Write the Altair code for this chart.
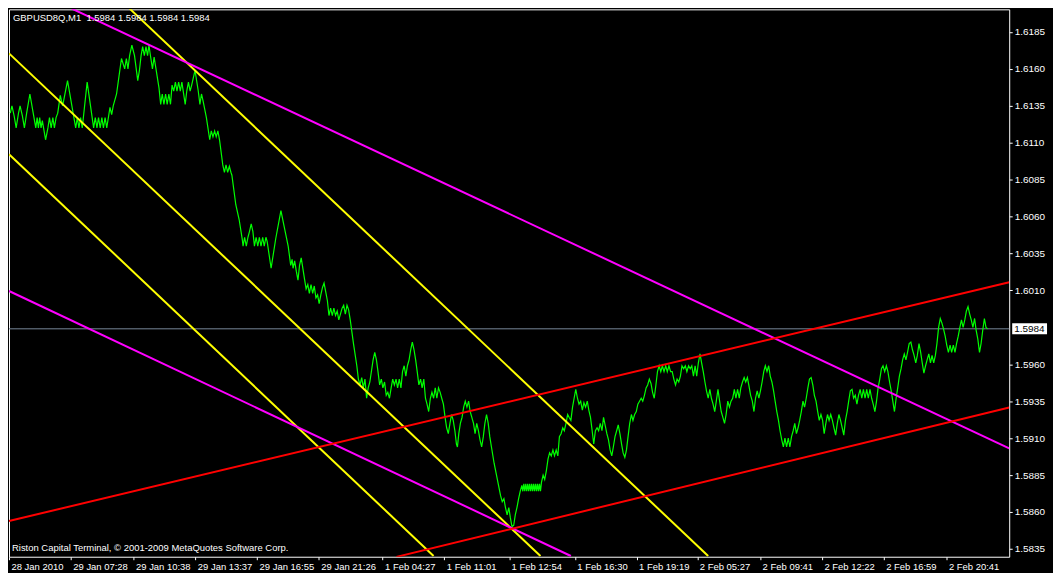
import altair as alt
import pandas as pd

# ---- price series: (bar position, close) per session ----
ticks_29jan_early = [
 (3.3, 1.6130), (5, 1.6135), (7.3, 1.6128), (9.3, 1.6120), (11.7, 1.6130), (13.3, 1.6135), (15.7, 1.6128),
 (17.7, 1.6120), (20, 1.6130), (23.3, 1.6143), (26.7, 1.6130), (29.3, 1.6120), (30.7, 1.6127), (32, 1.6120),
 (33.3, 1.6127), (34.7, 1.6120), (36, 1.6125), (39.3, 1.6112), (41.7, 1.6120), (43.3, 1.6127), (45, 1.6120),
 (46.7, 1.6127), (48.3, 1.6120), (50, 1.6127), (51.7, 1.6130), (54.3, 1.6142), (56.7, 1.6135), (61.7, 1.6152),
 (70, 1.6120), (71.7, 1.6127), (73.3, 1.6120), (75, 1.6127), (76.7, 1.6120), (81.7, 1.6151), (88.3, 1.6120),
 (90, 1.6127), (91.7, 1.6120), (93.3, 1.6127), (95, 1.6120), (96.7, 1.6127), (98.3, 1.6120), (100, 1.6127),
 (101.7, 1.6120), (105, 1.6134), (106.7, 1.6129), (108.3, 1.6135), (111.7, 1.6143), (115, 1.6159),
 (116.7, 1.6167), (120, 1.6160), (121.7, 1.6167), (123.3, 1.6160), (125, 1.6169), (127.3, 1.6176),
 (130, 1.6169), (133.3, 1.6152), (135, 1.6159), (136.7, 1.6169), (138.3, 1.6175), (140, 1.6169),
 (141.7, 1.6175), (143.3, 1.6169), (144.7, 1.6176), (146.7, 1.6167), (148.3, 1.6160), (150, 1.6168),
]
ticks_29jan_mid = [
 (155, 1.6147), (156.7, 1.6136), (158.3, 1.6143), (160, 1.6136), (161.7, 1.6143), (163.3, 1.6136),
 (165, 1.6143), (166.7, 1.6136), (168.3, 1.6149), (170, 1.6145), (171.7, 1.6151), (173.3, 1.6145),
 (175, 1.6151), (176.7, 1.6145), (178.3, 1.6151), (181.7, 1.6136), (183.3, 1.6145), (185, 1.6151),
 (186.7, 1.6145), (188.3, 1.6149), (191.7, 1.6159), (195, 1.6145), (196.7, 1.6136), (198.3, 1.6143),
 (200, 1.6138), (203.3, 1.6127), (206.7, 1.6112), (208.3, 1.6118), (210, 1.6114), (211.7, 1.6118),
 (213.3, 1.6114), (215, 1.6118), (216.7, 1.6112), (220, 1.6095), (221.7, 1.6090), (223.3, 1.6095),
 (225, 1.6090), (226.7, 1.6094), (228.3, 1.6090), (229.3, 1.6088), (233.3, 1.6068), (236.7, 1.6058),
 (240, 1.6044), (240.7, 1.6040), (242.3, 1.6046), (244, 1.6040), (245.7, 1.6046), (247.3, 1.6050),
 (249, 1.6055), (250.7, 1.6050), (252.3, 1.6040), (254, 1.6046), (255.7, 1.6040), (257.3, 1.6046),
 (259, 1.6040), (260.7, 1.6046), (262.3, 1.6040), (264, 1.6046), (265.3, 1.6043), (269.3, 1.6025),
 (274, 1.6045), (279.3, 1.6064), (283.3, 1.6051), (286.7, 1.6040), (289.3, 1.6027), (290.7, 1.6031),
 (291.7, 1.6025), (293.3, 1.6030), (295, 1.6023), (296.7, 1.6017), (298.3, 1.6027), (300, 1.6032),
]
ticks_29jan_late = [
 (303.3, 1.6018), (305, 1.6011), (306.7, 1.6014), (308.3, 1.6008), (310, 1.6014), (311.7, 1.6008),
 (313.3, 1.6013), (315, 1.6005), (316.7, 1.6007), (318.3, 1.6001), (320, 1.6007), (321.7, 1.6012),
 (323.3, 1.6015), (325, 1.6009), (326.7, 1.6003), (328.3, 1.5993), (330, 1.5998), (331.7, 1.5993),
 (333.3, 1.5998), (335, 1.5993), (336.7, 1.5996), (338.3, 1.5990), (340, 1.5994), (341.7, 1.5998),
 (343.3, 1.6000), (345, 1.5994), (346.7, 1.6000), (348.3, 1.5997), (350, 1.5990), (353.3, 1.5974),
 (356.7, 1.5959), (358.3, 1.5950), (360, 1.5946), (361.7, 1.5951), (363.3, 1.5944), (365, 1.5950),
 (366.7, 1.5937), (368.3, 1.5944), (370, 1.5948), (373.3, 1.5963), (375, 1.5968), (376.7, 1.5963),
 (378.3, 1.5955), (380, 1.5946),
]
ticks_1feb_early = [
 (381.7, 1.5950), (383.3, 1.5944), (385, 1.5948), (386.7, 1.5939), (388.3, 1.5941), (390, 1.5937),
 (391.7, 1.5944), (393.3, 1.5950), (395, 1.5946), (396.7, 1.5950), (398.3, 1.5944), (400, 1.5950),
 (401.7, 1.5944), (403.3, 1.5955), (405, 1.5959), (406.7, 1.5952), (408.3, 1.5959), (410, 1.5963),
 (411.7, 1.5970), (413.3, 1.5975), (415, 1.5970), (416.7, 1.5963), (418.3, 1.5955), (420, 1.5946),
 (421.7, 1.5950), (423.3, 1.5944), (425, 1.5950), (426.7, 1.5937), (428.3, 1.5933), (430, 1.5928),
 (431.7, 1.5937), (433.3, 1.5941), (435, 1.5937), (436.7, 1.5944), (438.3, 1.5937), (440, 1.5944),
 (441.7, 1.5941), (443.3, 1.5937), (445, 1.5933), (446.7, 1.5924), (448.3, 1.5917), (450, 1.5913),
 (451.7, 1.5920), (453.3, 1.5926), (455, 1.5922), (456.7, 1.5915), (458.3, 1.5906), (459.3, 1.5904),
 (460.7, 1.5913), (462.3, 1.5920), (464, 1.5924), (465.7, 1.5931), (467.3, 1.5935), (469, 1.5931),
 (470.7, 1.5935), (472.3, 1.5928), (474, 1.5924), (475.7, 1.5920), (477.3, 1.5913), (479, 1.5920),
 (480.7, 1.5915), (482.3, 1.5909), (484, 1.5904), (485.7, 1.5911), (487.3, 1.5920), (489, 1.5926),
 (490.7, 1.5920), (492.3, 1.5911), (494, 1.5904), (496.7, 1.5893), (500, 1.5882), (503.3, 1.5871),
 (505, 1.5867), (506.7, 1.5869), (508.3, 1.5863), (510, 1.5858), (511.7, 1.5863), (513.3, 1.5856),
 (515, 1.5850), (516.7, 1.5851), (518.3, 1.5858), (520, 1.5863), (521.7, 1.5869), (523.3, 1.5874),
 (525, 1.5878),
]
ticks_1feb_mid = [
 (526, 1.5874), (527, 1.5879), (528, 1.5874), (529, 1.5879), (530, 1.5874), (531, 1.5879), (532, 1.5874),
 (533, 1.5879), (534, 1.5874), (535, 1.5879), (536, 1.5874), (537, 1.5879), (538, 1.5874), (539, 1.5879),
 (540, 1.5874), (541, 1.5879), (542, 1.5874), (543, 1.5879), (544, 1.5874), (545, 1.5880), (546.7, 1.5885),
 (548.3, 1.5882), (550, 1.5888), (551.7, 1.5896), (553.3, 1.5900), (555, 1.5898), (556.7, 1.5902),
 (558.3, 1.5898), (560, 1.5902), (561.7, 1.5898), (563.3, 1.5911), (565, 1.5913), (566.7, 1.5917),
 (568.3, 1.5915), (570, 1.5920), (571.7, 1.5926), (573.3, 1.5924), (575, 1.5922), (576.7, 1.5931),
 (578.3, 1.5937), (580, 1.5943), (581.7, 1.5937), (583.3, 1.5933), (585, 1.5935), (586.7, 1.5929),
 (588.3, 1.5934), (590, 1.5931), (591.7, 1.5935), (593.3, 1.5929), (595, 1.5924), (596.7, 1.5915),
 (598.3, 1.5906), (600, 1.5915), (601.7, 1.5917), (603.3, 1.5915), (605, 1.5920), (606.7, 1.5915),
 (608.3, 1.5924), (611.7, 1.5913), (613.3, 1.5909), (615, 1.5902), (616.7, 1.5898), (618.3, 1.5904),
 (620, 1.5911), (621.7, 1.5915), (623.3, 1.5919), (625, 1.5913), (626.7, 1.5906), (628.3, 1.5900),
 (630, 1.5897), (631.7, 1.5902), (633.3, 1.5911), (635, 1.5920), (636.7, 1.5926), (638.3, 1.5922),
]
ticks_1feb_late = [
 (640, 1.5926), (641.7, 1.5928), (643.3, 1.5933), (645, 1.5935), (646.7, 1.5937), (648.3, 1.5935),
 (650, 1.5939), (651.7, 1.5944), (653.3, 1.5946), (655, 1.5950), (656.7, 1.5947), (658.3, 1.5941),
 (660, 1.5937), (661.7, 1.5946), (663.3, 1.5955), (665, 1.5959), (666.7, 1.5955), (668.3, 1.5959),
 (670, 1.5955), (671.7, 1.5959), (673.3, 1.5955), (675, 1.5959), (676.7, 1.5955), (678.3, 1.5955),
 (680, 1.5950), (681.7, 1.5946), (683.3, 1.5950), (685, 1.5948), (686.7, 1.5952), (688.3, 1.5959),
 (690, 1.5957), (691.7, 1.5959), (693.3, 1.5955), (695, 1.5959), (696.7, 1.5957), (698.3, 1.5959),
]
ticks_2feb_early = [
 (700, 1.5952), (701.7, 1.5959), (703.3, 1.5952), (705, 1.5961), (706.7, 1.5967), (708.3, 1.5961),
 (710, 1.5955), (711.7, 1.5948), (713.3, 1.5942), (715, 1.5937), (716.7, 1.5943), (718.3, 1.5937),
 (720, 1.5933), (721.7, 1.5928), (723.3, 1.5935), (725, 1.5943), (726.7, 1.5935), (728.3, 1.5928),
 (730, 1.5924), (731.7, 1.5920), (733.3, 1.5926), (735, 1.5935), (736.7, 1.5931), (738.3, 1.5935),
 (740, 1.5937), (741.7, 1.5943), (743.3, 1.5937), (745, 1.5943), (746.7, 1.5937), (748.3, 1.5944),
 (750, 1.5948), (751.7, 1.5951), (753.3, 1.5948), (755, 1.5951), (756.7, 1.5945), (758.3, 1.5939),
 (760, 1.5935), (761.7, 1.5928), (763.3, 1.5937), (765, 1.5942), (766.7, 1.5937), (768.3, 1.5942),
 (770, 1.5948), (771.7, 1.5955), (773.3, 1.5959), (775, 1.5955), (776.7, 1.5959), (778.3, 1.5952),
 (780, 1.5948), (781.7, 1.5942), (783.3, 1.5935), (785, 1.5928), (786.7, 1.5922), (788.3, 1.5915),
 (790, 1.5909), (791.7, 1.5904), (793.3, 1.5910), (795, 1.5904), (796.7, 1.5910), (798.3, 1.5904),
 (800, 1.5911), (801.7, 1.5915), (803.3, 1.5920), (805, 1.5913), (806.7, 1.5917), (808.3, 1.5922),
 (810, 1.5928), (811.7, 1.5935), (813.3, 1.5931), (815, 1.5937), (816.7, 1.5944), (818.3, 1.5950),
 (820, 1.5951), (821.7, 1.5946), (823.3, 1.5939), (825, 1.5935), (826.7, 1.5928), (828.3, 1.5922),
]
ticks_2feb_mid = [
 (830, 1.5926), (831.7, 1.5922), (833.3, 1.5913), (835, 1.5920), (836.7, 1.5926), (838.3, 1.5922),
 (840, 1.5926), (841.7, 1.5922), (843.3, 1.5917), (845, 1.5912), (846.7, 1.5920), (848.3, 1.5926),
 (850, 1.5922), (851.7, 1.5917), (853.3, 1.5912), (855, 1.5922), (856.7, 1.5928), (858.3, 1.5935),
 (860, 1.5942), (861.7, 1.5943), (863.3, 1.5937), (865, 1.5939), (866.7, 1.5933), (868.3, 1.5939),
 (870, 1.5943), (871.7, 1.5937), (873.3, 1.5943), (875, 1.5937), (876.7, 1.5943), (878.3, 1.5937),
 (880, 1.5943), (881.7, 1.5937), (883.3, 1.5933), (885, 1.5928), (886.7, 1.5935), (888.3, 1.5944),
 (890, 1.5950), (891.7, 1.5957), (893.3, 1.5959), (895, 1.5955), (896.7, 1.5959), (898.3, 1.5955),
 (900, 1.5948), (901.7, 1.5942), (903.3, 1.5935), (905, 1.5928), (906.7, 1.5937), (908.3, 1.5944),
]
ticks_2feb_late = [
 (910, 1.5952), (911.7, 1.5957), (913.3, 1.5963), (915, 1.5967), (916.7, 1.5963), (918.3, 1.5968),
 (920, 1.5974), (921.7, 1.5975), (923.3, 1.5970), (925, 1.5966), (926.7, 1.5961), (928.3, 1.5966),
 (930, 1.5974), (931.7, 1.5968), (933.3, 1.5961), (935, 1.5954), (936.7, 1.5959), (938.3, 1.5963),
 (940, 1.5967), (941.7, 1.5961), (943.3, 1.5966), (945, 1.5961), (946.7, 1.5966), (948.3, 1.5974),
 (950, 1.5985), (951.7, 1.5991), (953.3, 1.5988), (955, 1.5984), (956.7, 1.5979), (958.3, 1.5973),
 (960, 1.5968), (961.7, 1.5973), (963.3, 1.5968), (965, 1.5973), (966.7, 1.5968), (968.3, 1.5974),
 (970, 1.5979), (971.7, 1.5985), (973.3, 1.5990), (975, 1.5985), (976.7, 1.5990), (978.3, 1.5996),
 (980, 1.5999), (981.7, 1.5994), (983.3, 1.5990), (985, 1.5985), (986.7, 1.5991), (988.3, 1.5983),
 (990, 1.5977), (991.7, 1.5968), (993.3, 1.5974), (995, 1.5983), (996.7, 1.5991), (998.3, 1.5985),
 (1000, 1.5984),
]

# ---- time axis tick positions (bar) and labels ----
x_tick_pos = [2, 65, 129, 192, 255, 318, 383, 446, 512, 579, 642, 704, 768, 831, 894, 958]
x_tick_labels = ["28 Jan 2010", "29 Jan 07:28", "29 Jan 10:38", "29 Jan 13:37", "29 Jan 16:55",
                 "29 Jan 21:26", "1 Feb 04:27", "1 Feb 11:01", "1 Feb 12:54", "1 Feb 16:30",
                 "1 Feb 19:19", "2 Feb 05:27", "2 Feb 09:41", "2 Feb 12:22", "2 Feb 16:59", "2 Feb 20:41"]
y_ticks = [1.5835, 1.5860, 1.5885, 1.5910, 1.5935, 1.5960, 1.6010, 1.6035,
           1.6060, 1.6085, 1.6110, 1.6135, 1.6160, 1.6185]
x_range = [2, 1022]
y_range = [1.58297, 1.62003]

# ---- trend lines ----
trend_name = ["channel A", "channel B", "channel C", "fan 1", "fan 2", "up 1", "up 2"]
trend_color = ["#FFFF00", "#FFFF00", "#FFFF00", "#FF00FF", "#FF00FF", "#FF0000", "#FF0000"]
trend_bar1 = [125, 2, 2, 66, 2, 2, 397]
trend_p1 = [1.62008, 1.61705, 1.61022, 1.62008, 1.60096, 1.58539, 1.58296]
trend_bar2 = [715, 544, 435, 1022, 575, 1022, 1022]
trend_p2 = [1.58302, 1.58302, 1.58302, 1.59031, 1.58302, 1.60155, 1.59307]

last_price = 1.5984
header = "GBPUSD8Q,M1\u00a0 1.5984 1.5984 1.5984 1.5984"
footer = "Riston Capital Terminal, \u00a9 2001-2009 MetaQuotes Software Corp."

FONT = "Liberation Sans"
W, H = 1005, 550

all_ticks = (ticks_29jan_early + ticks_29jan_mid + ticks_29jan_late + ticks_1feb_early +
             ticks_1feb_mid + ticks_1feb_late + ticks_2feb_early + ticks_2feb_mid + ticks_2feb_late)
series = pd.DataFrame(all_ticks, columns=["bar", "close"])
trends = pd.DataFrame({"name": trend_name, "color": trend_color, "bar1": trend_bar1,
                       "p1": trend_p1, "bar2": trend_bar2, "p2": trend_p2})
last_df = pd.DataFrame({"price": [last_price]})
header_df = pd.DataFrame({"t": [header]})
footer_df = pd.DataFrame({"t": [footer]})

xs = alt.Scale(domain=x_range, nice=False, zero=False)
ys = alt.Scale(domain=y_range, nice=False, zero=False)

label_expr = ("[" + ",".join("'%s'" % s for s in x_tick_labels) + "][indexof(["
              + ",".join(str(v) for v in x_tick_pos) + "], datum.value)]")

x_axis = alt.Axis(values=x_tick_pos, labelExpr=label_expr, title=None, grid=False, domain=False,
                  tickColor="white", tickSize=3, labelColor="white", labelAlign="left",
                  labelBaseline="top", labelPadding=2, labelOffset=2, labelFlush=False,
                  labelOverlap=False, labelFont=FONT, labelFontSize=9.5)
y_axis = alt.Axis(orient="right", values=y_ticks, format=".4f", title=None, grid=False, domain=False,
                  tickColor="white", tickSize=3, labelColor="white", labelAlign="left",
                  labelBaseline="middle", labelPadding=2, labelFlush=False, labelOverlap=False,
                  labelFont=FONT, labelFontSize=10)

price_line = alt.Chart(last_df).mark_rule(color="#778899", strokeWidth=1).encode(
    y=alt.Y("price:Q", scale=ys, axis=y_axis))

green = alt.Chart(series).mark_line(color="#00FF00", strokeWidth=1.2, clip=True).encode(
    x=alt.X("bar:Q", scale=xs, axis=x_axis),
    y=alt.Y("close:Q", scale=ys, axis=y_axis),
    order="bar:Q")

lines = alt.Chart(trends).mark_rule(strokeWidth=2, clip=True).encode(
    x=alt.X("bar1:Q", scale=xs, axis=x_axis), x2="bar2:Q",
    y=alt.Y("p1:Q", scale=ys, axis=y_axis), y2="p2:Q",
    color=alt.Color("color:N", scale=None), detail="name:N")

price_box = alt.Chart(last_df).mark_rule(color="white", strokeWidth=11).encode(
    x=alt.value(W + 3), x2=alt.value(W + 38), y=alt.Y("price:Q", scale=ys, axis=y_axis))
price_text = alt.Chart(last_df).mark_text(align="left", baseline="middle", color="black",
                                          font=FONT, fontSize=10).encode(
    x=alt.value(W + 5), y=alt.Y("price:Q", scale=ys, axis=y_axis),
    text=alt.Text("price:Q", format=".4f"))

head = alt.Chart(header_df).mark_text(align="left", baseline="top", color="white",
                                      font=FONT, fontSize=9.5).encode(
    x=alt.value(4), y=alt.value(4), text="t:N")
foot = alt.Chart(footer_df).mark_text(align="left", baseline="alphabetic", color="white",
                                      font=FONT, fontSize=9.5).encode(
    x=alt.value(3), y=alt.value(H - 6), text="t:N")

chart = alt.layer(price_line, green, lines, price_box, price_text, head, foot).properties(
    width=W, height=H, background="black", padding=0
).configure_view(stroke="white", strokeWidth=1)

chart.save("out.html", embed_options={"renderer": "svg", "actions": False})
